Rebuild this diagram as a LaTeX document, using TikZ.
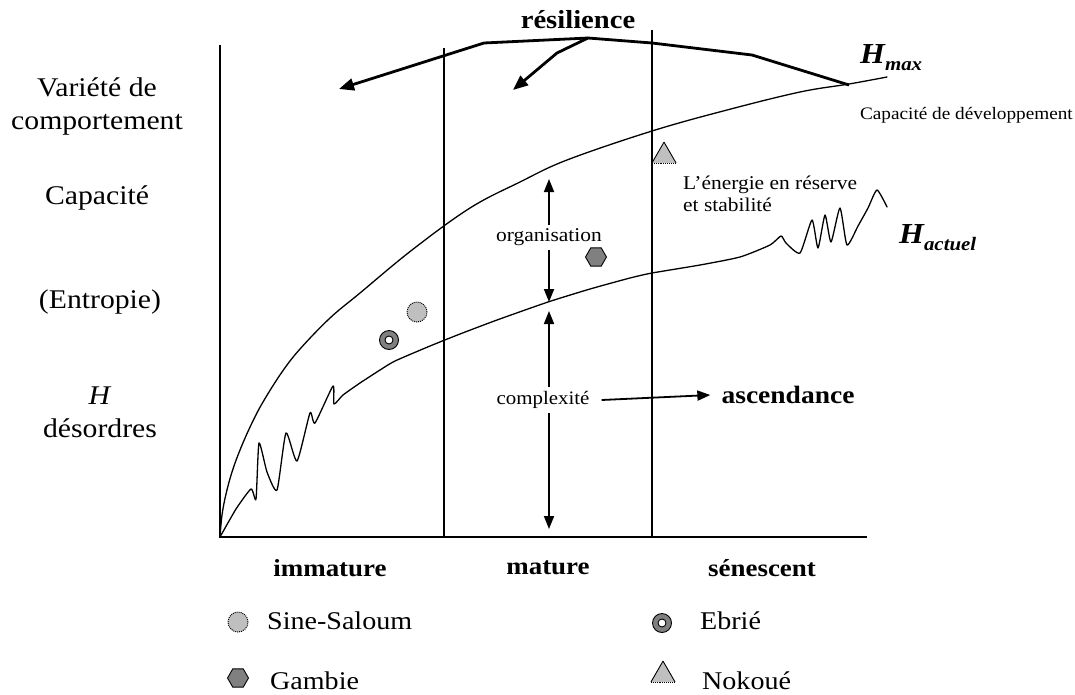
\documentclass[tikz,border=0pt]{standalone}
\usepackage{fontspec}
\setmainfont{Liberation Serif}[FakeStretch=1.1]
\usetikzlibrary{arrows.meta,shapes.geometric}
\begin{document}
\begin{tikzpicture}[x=1pt,y=-1pt,
  axis/.style={line width=2.6pt},
  divider/.style={line width=1.3pt},
  curve/.style={line width=1.3pt,line join=round,line cap=round},
  resil/.style={line width=2.8pt,line join=miter,-{Triangle[length=15pt,width=12pt]}},
  vec/.style={line width=1.8pt,-{Triangle[length=13pt,width=10pt]}},
  big/.style={inner sep=0pt,align=center,font={\fontsize{27}{33}\selectfont}},
  bold/.style={inner sep=0pt,font={\fontsize{24.5}{29}\selectfont\bfseries}},
  small/.style={inner sep=0pt,font={\fontsize{19.5}{22}\selectfont}},
  legend/.style={inner sep=0pt,anchor=west,font={\fontsize{25.5}{30}\selectfont}},
  saloum/.style={circle,draw,densely dotted,fill=gray!50,minimum size=20pt,inner sep=0pt,line width=1pt},
  ebriering/.style={circle,draw,fill=gray,minimum size=19pt,inner sep=0pt,line width=0.9pt},
  ebriehole/.style={circle,draw,fill=white,minimum size=8pt,inner sep=0pt,line width=0.9pt},
  gambie/.style={regular polygon,regular polygon sides=6,draw,fill=gray,minimum size=21pt,inner sep=0pt,line width=0.9pt},
  nokoue/.style={regular polygon,regular polygon sides=3,fill=gray!50,minimum size=27pt,inner sep=0pt},
  edge/.style={line width=0.9pt,line join=round},
]
\useasboundingbox (0,0) rectangle (1075,694);

% axes and the three stage dividers
\coordinate (O) at (220,537);
\coordinate (ytop) at (220,45);
\coordinate (xend) at (867,537);
\coordinate (d1top) at (444,48);
\coordinate (d1bot) at (444,537);
\coordinate (d2top) at (652,30);
\coordinate (d2bot) at (652,537);
\draw[axis] (ytop) -- (O) -- (xend);
\draw[divider] (d1top) -- (d1bot);
\draw[divider] (d2top) -- (d2bot);

% upper curve: development capacity H_max
\draw[curve] plot[smooth,tension=0.6] coordinates {
  (O) (222,515) (226,494) (232,472) (240,450) (251,425) (263,402)
  (282,372) (300,349) (330,318) (360,293) (412,250) (470,208)
  (520,182) (567,160) (652,131) (727,110) (800,92) (849,84) (887,77)};

% lower curve: actual H with its fluctuations
\draw[curve] plot[smooth,tension=0.35] coordinates {
  (O) (236,509) (251,489) (256,499) (259,443) (267,472) (277,490)
  (286,433) (297,461) (310,413) (315,423) (333,386) (334,404)
  (343,395) (360,383) (380,370) (395,361) (430,346) (460,334)
  (497,320) (548,302) (590,289) (630,278) (652,273) (700,265)
  (740,257) (770,245) (781,236) (786,243) (800,253) (812,220)
  (818,248) (825,215) (831,242) (840,208) (847,245) (858,226)
  (868,208) (877,190) (887,207)};

% y-axis captions
\node[big] (var) at (97,106) {Variété de\\comportement};
\node[big] (cap) at (97,198) {Capacité};
\node[big] (ent) at (100,302) {(Entropie)};
\node[big] (hdes) at (100,412) {\textit{H}\\désordres};

% stages along the x axis
\node[bold] (imm) at (330,568) {immature};
\node[bold] (mat) at (548,568) {mature};
\node[bold] (sen) at (762,568) {sénescent};

% curve labels
\node[inner sep=0pt,anchor=base west] (hmax) at (860,63)
  {{\fontsize{29}{34}\selectfont\bfseries\itshape H}\raisebox{-7pt}{\fontsize{19}{22}\selectfont\bfseries\itshape max}};
\node[inner sep=0pt,anchor=east,font={\fontsize{17.5}{20}\selectfont}] (capdev) at (1073,115) {Capacité de développement};
\node[inner sep=0pt,anchor=base west] (hact) at (899,243)
  {{\fontsize{29}{34}\selectfont\bfseries\itshape H}\raisebox{-7pt}{\fontsize{19}{22}\selectfont\bfseries\itshape actuel}};
\node[small,align=left,anchor=west] (energ) at (683,194) {L’énergie en réserve\\et stabilité};

% resilience
\node[inner sep=0pt,font={\fontsize{26}{30}\selectfont\bfseries}] (res) at (578,20) {résilience};
\coordinate (r1) at (849,85);
\coordinate (r2) at (752,55);
\coordinate (r3) at (652,43);
\coordinate (r4) at (588,38);
\coordinate (r5) at (484,43);
\coordinate (rtip1) at (339,89);
\coordinate (r6) at (557,53);
\coordinate (rtip2) at (513,90);
\draw[resil] (r1) -- (r2) -- (r3) -- (r4) -- (r5) -- (rtip1);
\draw[resil] (r4) -- (r6) -- (rtip2);

% organisation and complexity between the curves
\node[small] (org) at (549,237) {organisation};
\coordinate (orgtop) at (549,179);
\coordinate (orgbot) at (549,302);
\draw[vec] (org.north) ++(0,-3) -- (orgtop);
\draw[vec] (org.south) ++(0,4) -- (orgbot);
\node[inner sep=0pt,font={\fontsize{19}{22}\selectfont}] (cplx) at (543,400) {complexité};
\coordinate (cxtop) at (549,311);
\coordinate (cxbot) at (549,529);
\draw[vec] (549,387) -- (cxtop);
\draw[vec] (549,413) -- (cxbot);
\node[inner sep=0pt,font={\fontsize{25}{30}\selectfont\bfseries}] (asc) at (788,395) {ascendance};
\draw[vec] ([xshift=12pt]cplx.east) -- ([xshift=-11pt]asc.west);

% sites on the chart
\node[saloum] (ss) at (417,312) {};
\node[ebriering] (eb) at (389,340) {};
\node[ebriehole] (ebh) at (eb) {};
\node[gambie] (ga) at (596,257) {};
\node[nokoue] (nk) at (664,156) {};
\draw[edge] (nk.corner 2) -- (nk.corner 1) -- (nk.corner 3);
\draw[edge,densely dotted] (nk.corner 2) -- (nk.corner 3);

% legend
\node[saloum] (lss) at (238,622) {};
\node[legend] (lsst) at (267,621) {Sine-Saloum};
\node[gambie] (lga) at (238,678) {};
\node[legend] (lgat) at (270,681) {Gambie};
\node[ebriering] (leb) at (662,623) {};
\node[ebriehole] (lebh) at (leb) {};
\node[legend] (lebt) at (700,621) {Ebrié};
\node[nokoue] (lnk) at (663,675) {};
\draw[edge] (lnk.corner 2) -- (lnk.corner 1) -- (lnk.corner 3);
\draw[edge,densely dotted] (lnk.corner 2) -- (lnk.corner 3);
\node[legend] (lnkt) at (702,681) {Nokoué};
\end{tikzpicture}
\end{document}
